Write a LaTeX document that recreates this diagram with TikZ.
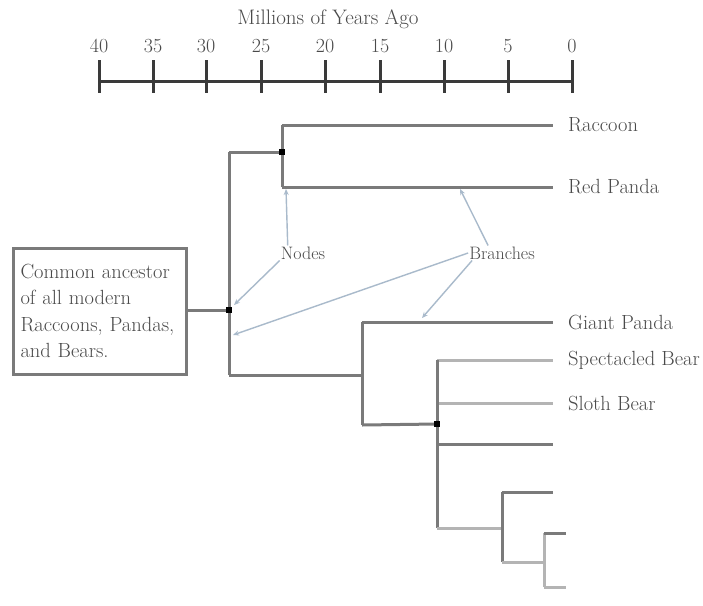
\documentclass[tikz,border=0pt]{standalone}
\usetikzlibrary{arrows.meta}
\definecolor{treegray}{HTML}{7A7A7A}
\definecolor{treelight}{HTML}{B4B4B4}
\definecolor{annblue}{HTML}{A9BACB}
\definecolor{labgray}{HTML}{4A4A4A}
\definecolor{axisdark}{HTML}{3A3A3A}
\begin{document}
\begin{tikzpicture}[x=1pt,y=-1pt,
  br/.style={draw=treegray, line width=3pt},
  brl/.style={draw=treelight, line width=3pt},
  ann/.style={draw=annblue, line width=1.4pt, -{Stealth[length=6pt,width=5pt]}},
  knot/.style={fill=black, minimum size=6pt, inner sep=0pt},
  leaf/.style={anchor=west, font=\fontsize{20.5}{22}\selectfont, text=labgray, inner sep=0pt},
  annlab/.style={font=\fontsize{18}{20}\selectfont, text=labgray, inner sep=1pt},
  axtick/.style={draw=axisdark, line width=3pt},
  axnum/.style={font=\fontsize{20}{22}\selectfont, text=labgray, inner sep=0pt}]
\useasboundingbox (0,0) rectangle (703,605);
\fill[white] (0,0) rectangle (703,605);

% time axis
\node[font=\fontsize{21}{24}\selectfont, text=labgray, inner sep=0pt] (title) at (328,19) {Millions of Years Ago};
\coordinate (axL) at (99,81);
\coordinate (axR) at (572,81);
\draw[axtick] (axL) -- (axR);
\foreach \x/\v in {99/40,153/35,206/30,261/25,325/20,380/15,444/10,508/5,572/0}{
  \draw[axtick] (\x,60) -- (\x,93);
  \node[axnum] (num\v) at (\x,46) {\v};
}

% ancestor box
\node[draw=treegray, line width=3pt, minimum width=173pt, minimum height=126pt,
      align=left, text width=158pt, inner sep=0pt, text=labgray,
      font=\fontsize{20.5}{26.5}\selectfont] (box) at (99.5,311)
  {Common ancestor\\of all modern\\Raccoons, Pandas,\\and Bears.};

% tree coordinates
\coordinate (root) at (229,310);
\coordinate (rtop) at (229,152);
\coordinate (rbot) at (229,375);
\coordinate (nA) at (282,152);
\coordinate (aT) at (282,125);
\coordinate (aB) at (282,187);
\coordinate (gB) at (362,375);
\coordinate (gT) at (362,322);
\coordinate (gD) at (362,425);
\coordinate (nB) at (437,424);
\coordinate (bT) at (437,360);
\coordinate (b2) at (437,403);
\coordinate (b3) at (437,444);
\coordinate (bD) at (437,528);
\coordinate (cM) at (502,528);
\coordinate (cT) at (502,492);
\coordinate (cB) at (502,562);
\coordinate (dM) at (544,562);
\coordinate (dT) at (544,533);
\coordinate (dB) at (544,587);
\coordinate (e3) at (553,444);
\coordinate (eC) at (553,492);
\coordinate (eD1) at (566,533);
\coordinate (eD2) at (566,587);

% leaf labels
\node[leaf] (rac) at (568,125) {Raccoon};
\node[leaf] (rp) at (568,187) {Red Panda};
\node[leaf] (gp) at (568,322) {Giant Panda};
\node[leaf] (sb) at (568,360) {Spectacled Bear};
\node[leaf] (slb) at (568,403) {Sloth Bear};

% branches
\draw[br] (box.east |- root) -- (root);
\draw[br] (rtop) -- (rbot);
\draw[br] (rtop) -- (nA);
\draw[br] (aT) -- (aB);
\draw[br, shorten >=15pt] (aT) -- (rac.west);
\draw[br, shorten >=15pt] (aB) -- (rp.west);
\draw[br] (rbot) -- (gB);
\draw[br] (gT) -- (gD);
\draw[br, shorten >=15pt] (gT) -- (gp.west);
\draw[br] (gD) -- (nB);
\draw[brl, shorten >=15pt] (bT) -- (sb.west);
\draw[brl, shorten >=15pt] (b2) -- (slb.west);
\draw[br] (b3) -- (e3);
\draw[br] (bT) -- (bD);
\draw[brl] (bD) -- (cM);
\draw[br] (cT) -- (cB);
\draw[br] (cT) -- (eC);
\draw[brl] (cB) -- (dM);
\draw[brl] (dT) -- (dB);
\draw[br] (dT) -- (eD1);
\draw[brl] (dB) -- (eD2);

% node markers
\node[knot] (k1) at (nA) {};
\node[knot] (k2) at (root) {};
\node[knot] (k3) at (nB) {};

% annotations
\node[annlab] (nodes) at (303,253) {Nodes};
\node[annlab] (branches) at (502,253) {Branches};
\coordinate (tRP) at (460,189);
\coordinate (tGP) at (422,318);
\coordinate (tRoot) at (233,335);
\coordinate (tNA) at (286,189);
\coordinate (tRootN) at (234,305);
\draw[ann] (nodes.north west) ++(8,0) -- (tNA);
\draw[ann] (nodes.south west) -- (tRootN);
\draw[ann] (branches.north west) ++(20,0) -- (tRP);
\draw[ann] (branches.west) -- (tRoot);
\draw[ann] (branches.south west) ++(4,0) -- (tGP);
\end{tikzpicture}
\end{document}
